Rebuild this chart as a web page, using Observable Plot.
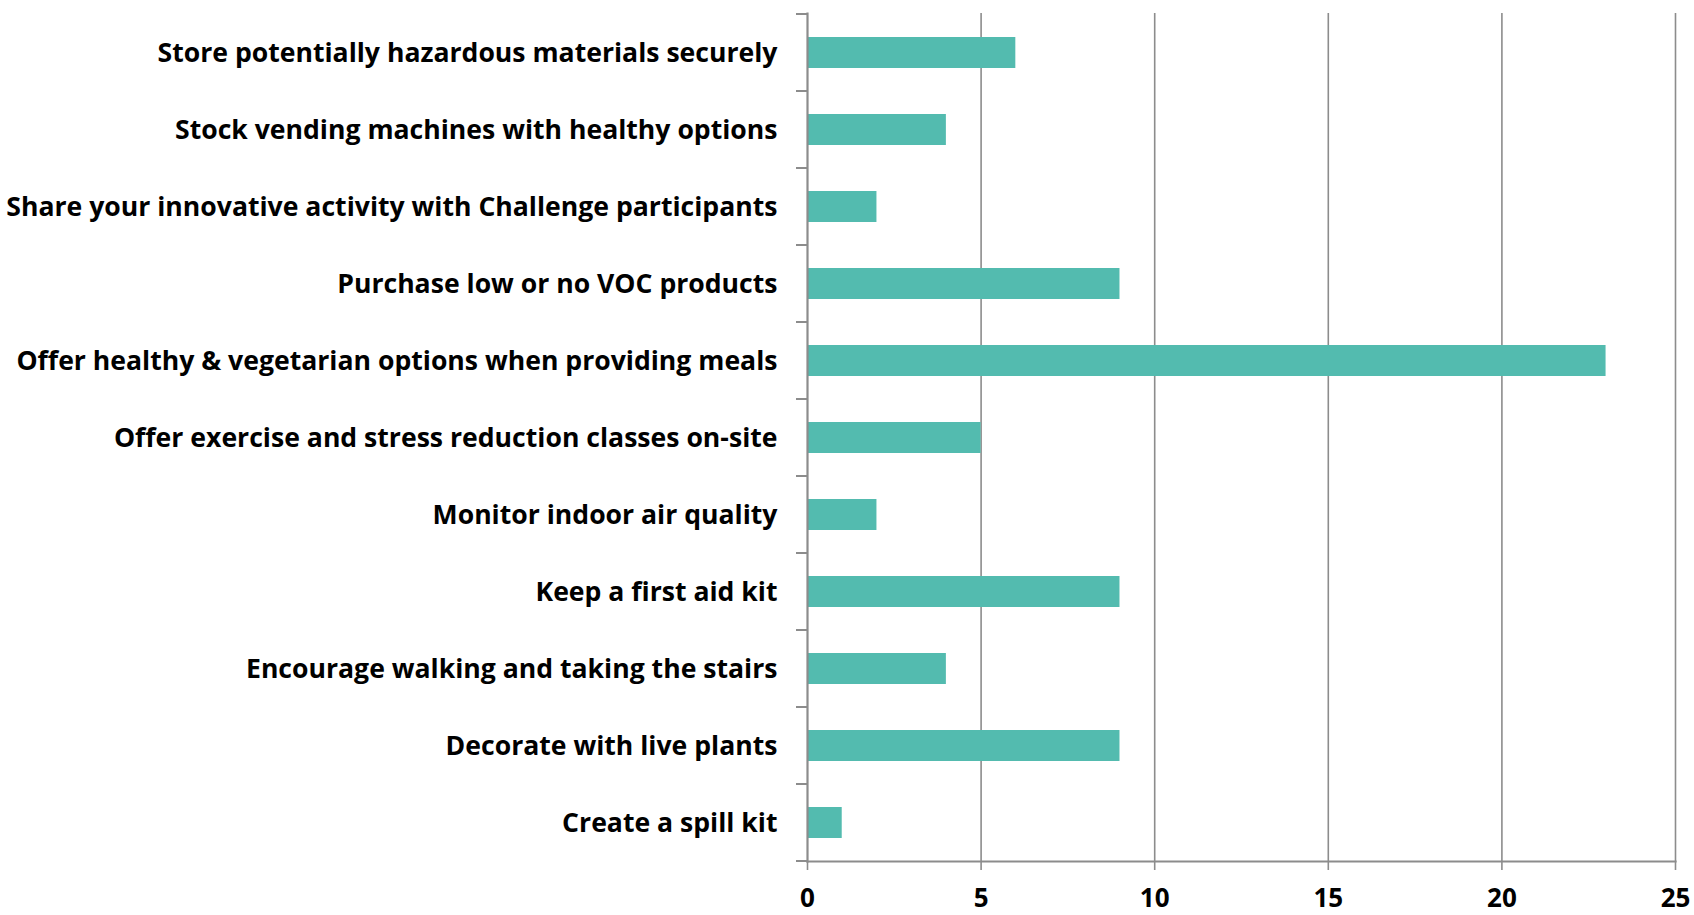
<!DOCTYPE html>
<html>
<head>
<meta charset="utf-8">
<script src="https://cdn.jsdelivr.net/npm/d3@7"></script>
<script src="https://cdn.jsdelivr.net/npm/@observablehq/plot@0.6"></script>
<style>
  html, body { margin: 0; padding: 0; background: #fff; }
  svg { display: block; }
</style>
</head>
<body>
<div id="chart"></div>
<script>
const categories = [
  "Store potentially hazardous materials securely",
  "Stock vending machines with healthy options",
  "Share your innovative activity with Challenge participants",
  "Purchase low or no VOC products",
  "Offer healthy & vegetarian options when providing meals",
  "Offer exercise and stress reduction classes on-site",
  "Monitor indoor air quality",
  "Keep a first aid kit",
  "Encourage walking and taking the stairs",
  "Decorate with live plants",
  "Create a spill kit"
];
const values = [6, 4, 2, 9, 23, 5, 2, 9, 4, 9, 1];
const xTicks = [0, 5, 10, 15, 20, 25];

const data = categories.map((c, i) => ({category: c, value: values[i]}));

const axisColor = "#8c8c8c";
const barColor = "#53BBAF";
const font = "'Open Sans', sans-serif";

// category boundary ticks on the left axis, positioned via the y band scale
function boundaryTicks(index, scales, vals, dimensions) {
  const y = scales.y;
  const bw = y.bandwidth ? y.bandwidth() : 0;
  const centers = categories.map(c => y(c) + bw / 2);
  const step = centers.length > 1 ? centers[1] - centers[0] : 0;
  const bounds = centers.map(c => c - step / 2);
  bounds.push(centers[centers.length - 1] + step / 2);
  const x0 = scales.x(0);
  const g = d3.create("svg:g");
  g.selectAll("line").data(bounds).join("line")
    .attr("x1", x0 - 11).attr("x2", x0)
    .attr("y1", d => d).attr("y2", d => d)
    .attr("stroke", axisColor).attr("stroke-width", 2);
  return g.node();
}

const plot = Plot.plot({
  width: 1694,
  height: 915,
  marginLeft: 807,
  marginRight: 19,
  marginTop: 13,
  marginBottom: 54,
  style: {fontFamily: font, background: "#fff"},
  x: {domain: [0, 25], ticks: xTicks},
  y: {domain: categories, paddingInner: 0.6, paddingOuter: 0.3, align: 0.5},
  marks: [
    Plot.gridX(xTicks.filter(d => d > 0), {stroke: axisColor, strokeOpacity: 1, strokeWidth: 1.6}),
    Plot.barX(data, {x: "value", y: "category", fill: barColor}),
    Plot.frame({anchor: "bottom", stroke: axisColor, strokeWidth: 2.2}),
    Plot.frame({anchor: "left", stroke: axisColor, strokeWidth: 2.2}),
    Plot.axisX({ticks: xTicks, tickSize: 9, tickPadding: 18, stroke: axisColor, strokeWidth: 1.6,
      fontSize: 26, fontWeight: "bold", fill: "#000", label: null, tickFormat: d => String(d)}),
    Plot.axisY({tickSize: 0, tickPadding: 30, fontSize: 26.6, fontWeight: "bold", fill: "#000", label: null}),
    boundaryTicks
  ]
});
document.getElementById("chart").appendChild(plot);
</script>
</body>
</html>
